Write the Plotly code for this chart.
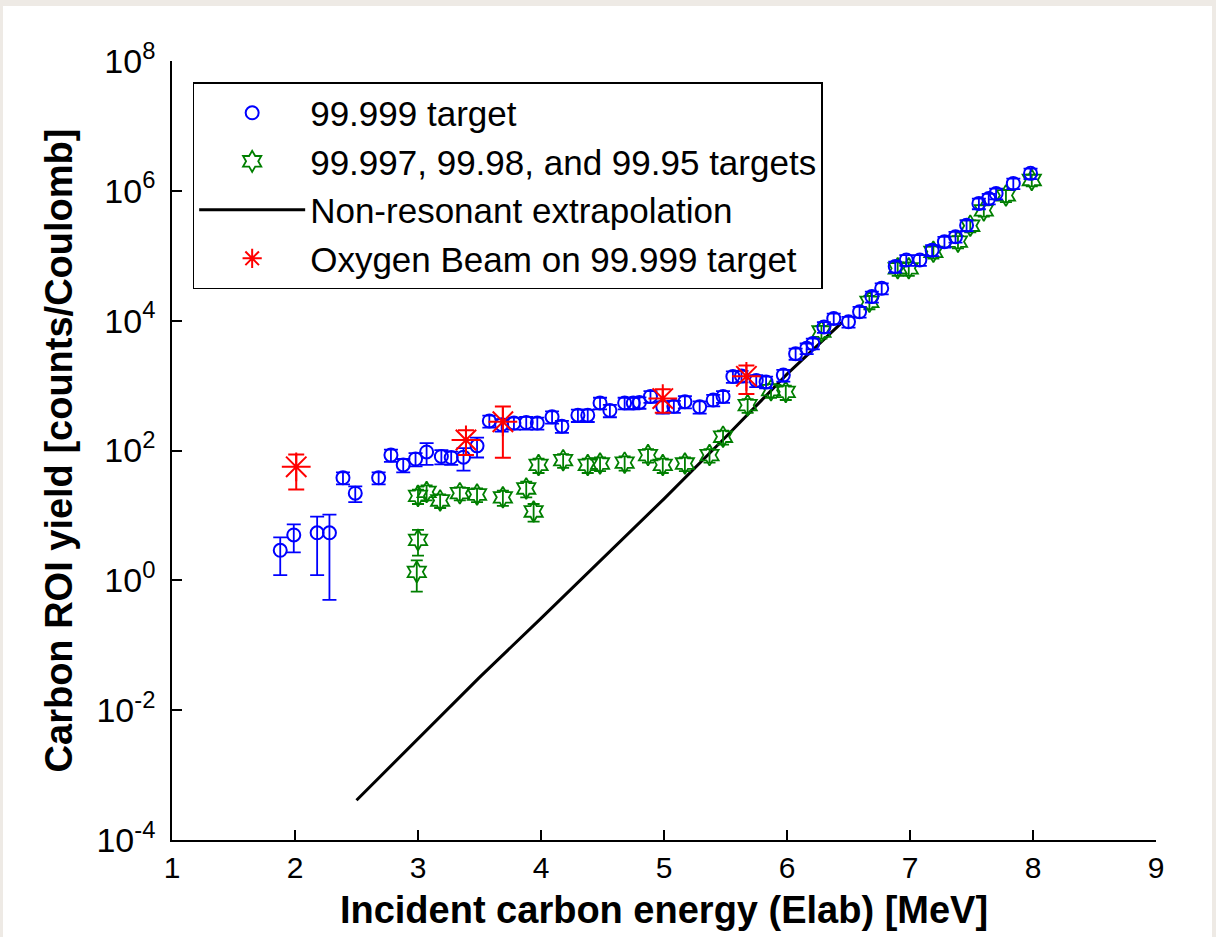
import plotly.graph_objects as go

# 99.999 target: energy [MeV], yield [counts/C], symmetric error
blue_x = [1.88, 1.99, 2.18, 2.28, 2.39, 2.49, 2.68, 2.78, 2.88, 2.98, 3.07, 3.19, 3.27,
          3.37, 3.48, 3.58, 3.68, 3.78, 3.88, 3.97, 4.09, 4.17, 4.30, 4.38, 4.48, 4.56,
          4.68, 4.75, 4.80, 4.89, 4.99, 5.08, 5.17, 5.29, 5.40, 5.48, 5.56, 5.63, 5.75,
          5.83, 5.97, 6.07, 6.16, 6.21, 6.30, 6.38, 6.50, 6.59, 6.69, 6.77, 6.88, 6.97,
          7.08, 7.18, 7.28, 7.37, 7.46, 7.56, 7.64, 7.70, 7.84, 7.98]
blue_y = [2.9, 5.0, 5.4, 5.4, 38, 22, 38, 85, 60, 74, 95, 81, 78,
          79, 118, 285, 250, 265, 270, 265, 330, 237, 350, 350, 540, 415,
          540, 540, 550, 680, 470, 480, 565, 470, 600, 680, 1380, 1400, 1200,
          1140, 1450, 3100, 3750, 4450, 8000, 10800, 9600, 13700, 23500, 31500, 68000, 86000,
          86000, 122000, 165000, 196000, 295000, 640000, 760000, 910000, 1300000, 1860000]
blue_err = [1.7, 2.3, 4.2, 4.9, 8, 6, 8, 18, 14, 17, 35, 20, 18,
            30, 40, 60, 55, 55, 60, 55, 70, 50, 75, 75, 110, 90,
            110, 110, 110, 140, 100, 100, 120, 100, 120, 140, 280, 280, 250,
            230, 300, 600, 700, 850, 1500, 2000, 1800, 2600, 4500, 6000, 13000, 16000,
            16000, 23000, 31000, 37000, 56000, 120000, 140000, 170000, 240000, 340000]

# 99.997, 99.98 and 99.95 targets
green_x = [2.99, 3.00, 3.00, 3.07, 3.18, 3.34, 3.48, 3.69, 3.88, 3.94, 3.98, 4.18, 4.38,
           4.48, 4.68, 4.87, 4.99, 5.17, 5.37, 5.48, 5.68, 5.87, 5.99, 6.28, 6.67, 6.90,
           6.99, 7.19, 7.39, 7.49, 7.60, 7.78, 7.99]
green_y = [1.35, 4.2, 20, 23, 17, 22, 21, 19, 26, 11.5, 60, 71, 60,
           63, 65, 85, 60, 63, 85, 163, 500, 850, 800, 6800, 19500, 64000,
           64000, 115000, 165000, 290000, 500000, 850000, 1470000]
green_err = [0.68, 1.8, 5, 6, 4, 5, 5, 5, 7, 3.5, 15, 17, 15,
             15, 16, 20, 15, 15, 20, 40, 120, 200, 200, 1500, 4500, 15000,
             15000, 25000, 35000, 60000, 100000, 180000, 300000]

# Non-resonant extrapolation
line_x = [2.5, 3.0, 3.5, 4.0, 4.5, 5.0, 5.5, 6.0, 6.45]
line_y = [4.1e-4, 3.6e-3, 0.032, 0.26, 2.2, 18, 160, 1500, 9500]

# Oxygen beam on 99.999 target
red_x = [2.01, 3.39, 3.69, 4.99, 5.67]
red_y = [56, 145, 277, 630, 1390]
red_err = [31, 60, 200, 250, 650]

x_ticks = [1, 2, 3, 4, 5, 6, 7, 8, 9]
y_exponents = [-4, -2, 0, 2, 4, 6, 8]

FONT = "Liberation Sans, Arial, sans-serif"
BLUE = "#0000ff"
GREEN = "#007f00"
RED = "#ff0000"

fig = go.Figure()

fig.add_trace(go.Scatter(
    x=line_x, y=line_y, mode="lines", name="Non-resonant extrapolation",
    line=dict(color="black", width=3), legendrank=3))

fig.add_trace(go.Scatter(
    x=green_x, y=green_y, mode="markers", name="99.997, 99.98, and 99.95 targets",
    marker=dict(symbol="hexagram-open", size=16, color=GREEN, line=dict(width=1.8, color=GREEN)),
    error_y=dict(type="data", array=green_err, color=GREEN, thickness=1.8, width=6),
    legendrank=2))

fig.add_trace(go.Scatter(
    x=blue_x, y=blue_y, mode="markers", name="99.999 target",
    marker=dict(symbol="circle-open", size=13, color=BLUE, line=dict(width=2, color=BLUE)),
    error_y=dict(type="data", array=blue_err, color=BLUE, thickness=1.8, width=7),
    legendrank=1))

fig.add_trace(go.Scatter(
    x=red_x, y=red_y, mode="markers", name="Oxygen Beam on 99.999 target",
    marker=dict(symbol="asterisk-open", size=24, color=RED, line=dict(width=2, color=RED)),
    error_y=dict(type="data", array=red_err, color=RED, thickness=2, width=8),
    legendrank=4))

# light outer frame around the white figure area
fig.add_shape(type="rect", xref="paper", yref="paper", layer="below",
              x0=(3 - 172) / 984, x1=(1212 - 172) / 984,
              y0=(840 - 960) / 779, y1=(840 - 6) / 779,
              fillcolor="white", line=dict(width=0))

fig.update_layout(
    width=1216, height=937,
    margin=dict(l=172, r=60, t=61, b=97),
    paper_bgcolor="#eeeae5", plot_bgcolor="white",
    font=dict(family=FONT, size=30, color="black"),
    showlegend=True,
    legend=dict(x=0.021, y=0.973, xanchor="left", yanchor="top",
                bgcolor="white", bordercolor="black", borderwidth=1.5,
                font=dict(family=FONT, size=35), itemwidth=106,
                traceorder="normal"),
    xaxis=dict(range=[1, 9], tickvals=x_ticks, ticks="inside", ticklen=10, tickwidth=1.5,
               tickcolor="black", showline=True, linecolor="black", linewidth=1.5,
               showgrid=False, zeroline=False, mirror=False,
               tickfont=dict(family=FONT, size=30),
               title=dict(text="<b>Incident carbon energy (Elab) [MeV]</b>",
                          font=dict(family=FONT, size=38), standoff=14)),
    yaxis=dict(type="log", range=[-4, 8],
               tickvals=[10.0 ** e for e in y_exponents],
               ticktext=[f"10<sup>{e}</sup>" for e in y_exponents],
               ticks="inside", ticklen=10, tickwidth=1.5, tickcolor="black",
               ticklabelstandoff=8,
               showline=True, linecolor="black", linewidth=1.5,
               showgrid=False, zeroline=False, mirror=False,
               tickfont=dict(family=FONT, size=34),
               title=dict(text="<b>Carbon ROI yield [counts/Coulomb]</b>",
                          font=dict(family=FONT, size=38), standoff=12)),
)

fig.write_html("out.html")
